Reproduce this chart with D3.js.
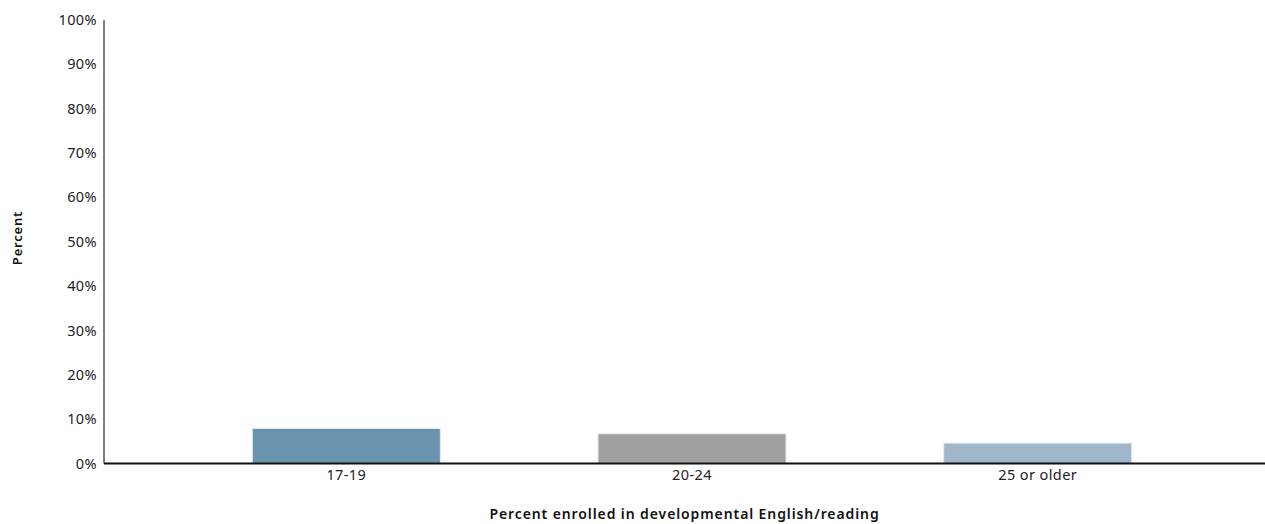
<!DOCTYPE html>
<html><head><meta charset="utf-8">
<script src="https://cdn.jsdelivr.net/npm/d3@7"></script>
<style>body{margin:0;background:#fff;} svg{display:block;font-family:"Noto Sans",sans-serif;}</style>
</head><body>
<svg id="chart" width="1265" height="524"></svg>
<script>
const categories = ["17-19", "20-24", "25 or older"];
const values = [7.9, 6.7, 4.6];
const colors = ["#6894ae", "#a0a0a0", "#a0b6ca"];
const yTicks = [0,10,20,30,40,50,60,70,80,90,100];

(function(){
const svg = d3.select("#chart");
const mLeft = 104, mRight = 1265, mTop = 20, mBottom = 463.5;

const x = d3.scaleBand().domain(categories).range([114, 1270]).paddingInner(0.456).paddingOuter(0.4);
const y = d3.scaleLinear().domain([0,100]).range([mBottom, mTop]);

// y axis
const yg = svg.append("g").attr("transform", `translate(${mLeft},0)`);
yg.append("line").attr("x1",0).attr("x2",0).attr("y1",mTop).attr("y2",mBottom).attr("stroke","#555").attr("stroke-width",1.5);
yg.selectAll("text").data(yTicks).join("text")
  .attr("x",-7).attr("y",d=>y(d)).attr("dy","0.35em").attr("text-anchor","end")
  .attr("font-size",14.5).attr("letter-spacing",0.4).attr("fill","#222").text(d=>d+"%");

// bars
svg.selectAll("rect.bar").data(categories).join("rect").attr("class","bar")
  .attr("x",d=>x(d)).attr("width",x.bandwidth())
  .attr("y",(d,i)=>y(values[i])).attr("height",(d,i)=>mBottom - y(values[i]))
  .attr("fill",(d,i)=>colors[i]).attr("stroke","#e6ecf0").attr("stroke-width",1);

// x axis line
svg.append("line").attr("x1",mLeft).attr("x2",mRight).attr("y1",mBottom).attr("y2",mBottom).attr("stroke","#111").attr("stroke-width",2);

// x tick labels
svg.selectAll("text.xl").data(categories).join("text").attr("class","xl")
  .attr("x",d=>x(d)+x.bandwidth()/2).attr("y",480).attr("text-anchor","middle")
  .attr("font-size",14.5).attr("letter-spacing",0.4).attr("fill","#222").text(d=>d);

// axis titles
svg.append("text").attr("x",(mLeft+mRight)/2).attr("y",519).attr("text-anchor","middle")
  .attr("font-size",14).attr("font-weight",600).attr("letter-spacing",0.9).attr("fill","#111")
  .text("Percent enrolled in developmental English/reading");
svg.append("text").attr("transform","translate(22,238) rotate(-90)").attr("text-anchor","middle")
  .attr("font-size",13).attr("font-weight",600).attr("letter-spacing",0.8).attr("fill","#111").text("Percent");
})();
</script>
</body></html>
